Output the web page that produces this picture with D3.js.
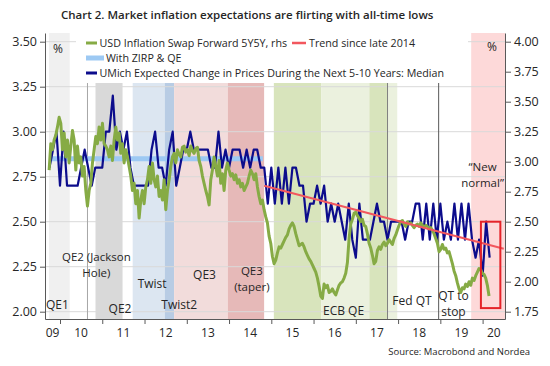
<!DOCTYPE html>
<html><head><meta charset="utf-8">
<script src="https://cdn.jsdelivr.net/npm/d3@7"></script>
<style>
body{margin:0;background:#fff}
svg{display:block}
text{font-family:"Open Sans",sans-serif;fill:#262626}
</style>
</head><body>
<svg id="c" width="550" height="366"></svg>
<script>
// ---------------- DATA ----------------
// UMich expected change in prices, next 5-10 years, median (lhs), monthly from Sep 2009
const umichStartYear = 2009, umichStartMonth = 9;
const umich = [
 2.8,2.9,3.0,2.7,3.0,2.7,2.7,2.7,2.7,2.8,
 2.9,2.8,2.7,2.8,2.8,2.8,3.0,3.0,3.2,2.9,
 3.0,2.9,3.0,2.8,2.7,2.7,2.7,2.7,2.7,2.9,
 3.0,2.8,2.8,2.7,2.9,3.0,2.7,2.8,2.9,2.9,
 3.0,2.9,2.9,2.9,2.9,2.9,2.8,2.8,3.0,2.8,
 2.9,2.8,2.9,2.9,2.9,2.8,2.9,2.8,2.9,2.9,
 2.8,2.8,2.6,2.8,2.6,2.8,2.6,2.8,2.6,2.8,
 2.8,2.7,2.7,2.5,2.6,2.6,2.7,2.6,2.7,2.5,
 2.6,2.5,2.6,2.5,2.4,2.6,2.4,2.3,2.6,2.4,
 2.4,2.4,2.5,2.6,2.5,2.5,2.4,2.5,2.5,2.5,
 2.5,2.4,2.5,2.5,2.6,2.6,2.4,2.6,2.4,2.6,
 2.4,2.6,2.4,2.5,2.4,2.6,2.4,2.6,2.4,2.6,
 2.4,2.3,2.4,2.2,2.5,2.3
];
// USD inflation swap forward 5Y5Y (rhs), read off roughly every two weeks
const swapStart = 2009.743, swapStep = 0.03943;
const swap = [
 2.93,3.15,3.10,3.18,3.22,3.29,3.37,3.32,3.10,3.24,
 3.04,3.18,2.99,3.13,3.26,3.18,2.93,3.13,2.99,3.04,
 2.88,2.96,2.76,2.63,2.76,2.82,2.99,3.10,3.21,3.15,
 3.29,3.18,3.32,3.15,3.13,3.10,3.04,3.13,3.01,3.18,
 3.29,3.18,3.24,3.07,3.15,2.99,3.10,3.04,2.96,2.88,
 2.76,2.82,2.65,2.76,2.53,2.68,2.76,2.65,2.79,2.85,
 2.96,2.82,2.99,2.85,2.79,2.88,2.71,2.76,2.68,2.85,
 2.60,2.76,2.85,2.96,3.04,3.07,2.99,3.10,3.06,3.04,
 3.12,3.13,3.08,3.10,3.05,3.13,3.09,3.07,3.11,3.12,
 3.01,2.96,2.88,2.82,2.76,2.71,2.64,2.85,2.93,3.04,
 2.96,2.88,3.01,2.82,2.90,2.76,2.93,2.99,2.93,2.88,
 2.90,2.85,2.89,2.82,2.85,2.79,2.82,2.76,2.79,2.82,
 2.88,2.93,2.90,2.85,2.90,2.79,2.71,2.65,2.68,2.60,
 2.54,2.49,2.38,2.32,2.21,2.15,2.18,2.24,2.29,2.28,
 2.31,2.34,2.37,2.39,2.44,2.47,2.49,2.46,2.40,2.35,
 2.30,2.31,2.32,2.29,2.25,2.22,2.19,2.17,2.14,2.11,
 2.08,2.03,1.96,1.88,1.86,1.98,1.95,1.97,1.91,1.92,
 1.94,1.91,1.89,1.93,1.97,1.99,2.00,2.03,2.07,2.16,
 2.36,2.48,2.52,2.57,2.58,2.55,2.53,2.50,2.52,2.47,
 2.46,2.40,2.32,2.28,2.22,2.15,2.17,2.26,2.29,2.27,
 2.31,2.33,2.30,2.32,2.35,2.33,2.31,2.36,2.39,2.43,
 2.47,2.50,2.51,2.48,2.46,2.50,2.48,2.49,2.47,2.45,
 2.47,2.48,2.46,2.49,2.47,2.45,2.47,2.46,2.44,2.45,
 2.43,2.40,2.36,2.32,2.25,2.27,2.31,2.27,2.28,2.24,
 2.25,2.20,2.15,2.09,2.05,1.99,1.94,1.91,1.95,1.94,
 1.98,1.96,2.00,1.97,2.03,2.01,2.05,2.08,2.11,2.10,
 2.07,2.06,2.03,1.97,1.88
];
// "With ZIRP & QE" level (lhs)
const zirpYears = [2009.74, 2014.80];
const zirpLevel = [2.85, 2.85];
// Trend since late 2014 (lhs)
const trendYears = [2014.83, 2020.50];
const trendLevel = [2.70, 2.35];
// Policy periods (decimal years)
const bandKeys  = ["qe1","qe2","twist","twist2","qe3","taper","ecb1","ecb2","ecb3","ecb4","newnormal"];
const bandStart = [2009.74,2010.84,2011.72,2012.48,2012.70,2013.97,2015.06,2016.18,2017.32,2017.75,2019.73];
const bandEnd   = [2010.23,2011.48,2012.48,2012.70,2013.97,2014.83,2016.18,2017.32,2017.75,2017.98,2020.53];
// Event lines: Jackson Hole, Fed QT, QT to stop
const eventYears = [2010.65, 2017.75, 2018.96];
// Highlight box (years, rhs values)
const boxYears = [2019.96, 2020.42];
const boxLevel = [1.78, 2.50];
// Axis ticks
const leftTicks  = [2.00,2.25,2.50,2.75,3.00,3.25,3.50];
const rightTicks = [1.75,2.00,2.25,2.50,2.75,3.00,3.25,3.50,3.75,4.00];
const yearTicks  = [2010,2011,2012,2013,2014,2015,2016,2017,2018,2019,2020];
const yearLabels = ["09","10","11","12","13","14","15","16","17","18","19","20"];

// ---------------- STYLES ----------------
const bandColor = {qe1:"#f0f0f0",qe2:"#d9d9d9",twist:"#dce6f1",twist2:"#b8cce4",qe3:"#f2dcdb",
  taper:"#e6b9b8",ecb1:"#d8e4bc",ecb2:"#ebf1de",ecb3:"#d8e4bc",ecb4:"#ebf1de",newnormal:"#fdd9d9"};
const fullHeight = {qe1:true,newnormal:true};
const eventColor = ["#a6a6a6","#7f7f7f","#595959"];
const C = {green:"#86ab45", navy:"#0c0c8c", zirp:"#9dc9f3", trend:"#f2575e", box:"#e52329", grid:"#d9d9d9", axis:"#595959"};

// ---------------- CHART ----------------
const svg = d3.select("#c");
const P = {l:45, r:505, t:33, b:319, bandTop:83};

const x = d3.scaleLinear().domain([2009.645, 2020.53]).range([P.l, P.r]);
const yL = d3.scaleLinear().domain([2.0, 3.5]).range([311.7, 41.7]);
yL.domain([yL.invert(P.b), yL.invert(P.t)]).range([P.b, P.t]);
const yR = d3.scaleLinear().domain([1.75, 4.0]).range([311.7, 41.7]);
yR.domain([yR.invert(P.b), yR.invert(P.t)]).range([P.b, P.t]);

// bands
bandKeys.forEach((k,i)=>{
  const top = fullHeight[k] ? P.t : P.bandTop;
  svg.append("rect").attr("x", x(bandStart[i])).attr("y", top)
    .attr("width", x(bandEnd[i]) - x(bandStart[i])).attr("height", P.b - top)
    .attr("fill", bandColor[k]);
});

// gridlines
svg.append("g").selectAll("line").data(leftTicks).join("line")
  .attr("x1", P.l).attr("x2", P.r).attr("y1", d=>yL(d)).attr("y2", d=>yL(d))
  .attr("stroke", C.grid).attr("stroke-width", 1);

// event lines
eventYears.forEach((e,i)=>{
  svg.append("line").attr("x1", x(e)).attr("x2", x(e)).attr("y1", P.bandTop).attr("y2", P.b)
    .attr("stroke", eventColor[i]).attr("stroke-width", 1);
});

// legend background
svg.append("rect").attr("x", 76).attr("y", 34).attr("width", 392).attr("height", P.bandTop-34).attr("fill", "#fff");

// annotations
const ann = (t, yr, py, size) => svg.append("text").attr("x", x(yr)).attr("y", py)
  .attr("text-anchor","middle").attr("dominant-baseline","central").style("font-size",(size||12)+"px").text(t);
ann("QE1", 2009.94, 304);
ann("QE2", 2011.42, 308);
ann("Twist2", 2012.82, 304);
ann("QE2 (Jackson", 2010.86, 256, 11.5);
ann("Hole)", 2010.86, 272, 11.5);
ann("Twist", 2012.18, 283);
ann("QE3", 2013.42, 274);
ann("QE3", 2014.54, 270, 11.5);
ann("(taper)", 2014.54, 286, 11.5);
ann("ECB QE", 2016.71, 310);
ann("Fed QT", 2018.33, 300);
ann("QT to", 2019.31, 295);
ann("stop", 2019.31, 311);
ann("\u201CNew", 2020.0, 166, 11.5);
ann("normal\u201D", 2020.0, 182, 11.5);

// lines
const lineL = d3.line().x(d=>x(d[0])).y(d=>yL(d[1]));
const lineR = d3.line().x(d=>x(d[0])).y(d=>yR(d[1]));

svg.append("path").datum(zirpYears.map((v,i)=>[v, zirpLevel[i]])).attr("d", lineL)
  .attr("fill","none").attr("stroke", C.zirp).attr("stroke-width", 5);

const umichData = umich.map((v,i)=>{
  const m = umichStartMonth + i; // month index (1-based), plotted at month end
  return [umichStartYear + m/12, v];
});
svg.append("path").datum(umichData).attr("d", lineL)
  .attr("fill","none").attr("stroke", C.navy).attr("stroke-width", 2.2).attr("stroke-linejoin","round");

const swapData = swap.map((v,i)=>[swapStart + i*swapStep, v]);
svg.append("path").datum(swapData).attr("d", lineR)
  .attr("fill","none").attr("stroke", C.green).attr("stroke-width", 3).attr("stroke-linejoin","round");

svg.append("path").datum(trendYears.map((v,i)=>[v, trendLevel[i]])).attr("d", lineL)
  .attr("fill","none").attr("stroke", C.trend).attr("stroke-width", 2);

// highlight box
svg.append("rect").attr("x", x(boxYears[0])).attr("y", yR(boxLevel[1]))
  .attr("width", x(boxYears[1]) - x(boxYears[0])).attr("height", yR(boxLevel[0]) - yR(boxLevel[1]))
  .attr("fill","none").attr("stroke", C.box).attr("stroke-width", 2);

// axes
const gL = svg.append("g").attr("transform",`translate(${P.l},0)`)
  .call(d3.axisLeft(yL).tickValues(leftTicks).tickSize(5).tickSizeOuter(0).tickPadding(3).tickFormat(d3.format(".2f")));
const gR = svg.append("g").attr("transform",`translate(${P.r},0)`)
  .call(d3.axisRight(yR).tickValues(rightTicks).tickSize(6).tickSizeOuter(0).tickPadding(3).tickFormat(d3.format(".2f")));
const gB = svg.append("g").attr("transform",`translate(0,${P.b})`)
  .call(d3.axisBottom(x).tickValues(yearTicks).tickSize(5).tickSizeOuter(0).tickFormat(""));
[gL,gR,gB].forEach(g=>{
  g.selectAll("path,line").attr("stroke", C.axis);
  g.selectAll("text").style("font-size","12.5px").attr("fill","#262626").style("font-family",'"Open Sans",sans-serif');
});
// year labels centred in each year
yearLabels.forEach((t,i)=>{
  const y0 = 2009 + i;
  const a = Math.max(x(y0), P.l), b = Math.min(x(y0+1), P.r);
  svg.append("text").attr("x",(a+b)/2).attr("y",332).attr("text-anchor","middle")
    .attr("dominant-baseline","central").style("font-size","12px").text(t);
});

// % labels
svg.append("text").attr("x",58).attr("y",48).attr("text-anchor","middle").attr("dominant-baseline","central").style("font-size","12px").text("%");
svg.append("text").attr("x",492).attr("y",46).attr("text-anchor","middle").attr("dominant-baseline","central").style("font-size","12px").text("%");

// legend
const leg = (x1,x2,yy,color,w,label,tx) => {
  svg.append("line").attr("x1",x1).attr("x2",x2).attr("y1",yy).attr("y2",yy).attr("stroke",color).attr("stroke-width",w);
  svg.append("text").attr("x",tx).attr("y",yy).attr("dominant-baseline","central").style("font-size","10.7px").text(label);
};
leg(86,97,43,C.green,3,"USD Inflation Swap Forward 5Y5Y, rhs",99.5);
leg(292,306,43,C.trend,2.5,"Trend since late 2014",309);
leg(86,104,58,C.zirp,5,"With ZIRP & QE",106);
leg(86,97,73,C.navy,3,"UMich Expected Change in Prices During the Next 5-10 Years: Median",99.5);

// title & source
svg.append("text").attr("x",61).attr("y",14).attr("dominant-baseline","central")
  .style("font-size","11.5px").style("font-weight","600").text("Chart 2. Market inflation expectations are flirting with all-time lows");
svg.append("text").attr("x",530).attr("y",351).attr("text-anchor","end").attr("dominant-baseline","central")
  .style("font-size","9.5px").text("Source: Macrobond and Nordea");
</script>
</body></html>
